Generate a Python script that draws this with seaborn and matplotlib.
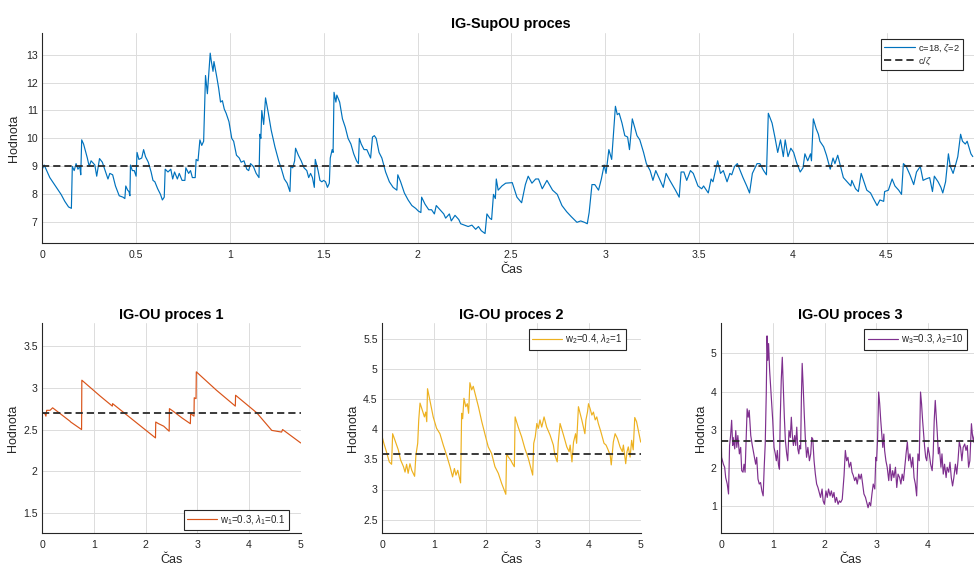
import matplotlib
matplotlib.use("Agg")
import matplotlib.pyplot as plt
import seaborn as sns
from matplotlib.ticker import FuncFormatter

# ---------------- data ----------------
top_t = [0.000, 0.010, 0.020, 0.040, 0.060, 0.080, 0.100, 0.120, 0.140, 0.155, 0.160, 0.170, 0.180, 0.190, 0.200,
         0.205, 0.210, 0.220, 0.240, 0.250, 0.260, 0.280, 0.290, 0.305, 0.320, 0.335, 0.350, 0.360, 0.375, 0.390,
         0.410, 0.430, 0.440, 0.445, 0.455, 0.462, 0.467, 0.470, 0.480, 0.490, 0.500, 0.505, 0.515, 0.530, 0.540,
         0.550, 0.565, 0.580, 0.590, 0.600, 0.615, 0.630, 0.640, 0.650, 0.655, 0.670, 0.685, 0.695, 0.705, 0.720,
         0.730, 0.745, 0.760, 0.765, 0.780, 0.790, 0.800, 0.815, 0.820, 0.830, 0.840, 0.850, 0.860, 0.870, 0.880,
         0.895, 0.900, 0.910, 0.915, 0.930, 0.940, 0.950, 0.960, 0.970, 0.980, 0.995, 1.010, 1.020, 1.035, 1.050,
         1.060, 1.075, 1.090, 1.100, 1.110, 1.125, 1.140, 1.155, 1.160, 1.165, 1.170, 1.180, 1.190, 1.205, 1.220,
         1.240, 1.260, 1.275, 1.290, 1.305, 1.320, 1.325, 1.335, 1.345, 1.350, 1.365, 1.380, 1.395, 1.410, 1.420,
         1.430, 1.440, 1.450, 1.455, 1.470, 1.480, 1.490, 1.500, 1.510, 1.520, 1.530, 1.535, 1.545, 1.550, 1.555,
         1.565, 1.570, 1.585, 1.600, 1.615, 1.630, 1.645, 1.660, 1.675, 1.685, 1.690, 1.700, 1.715, 1.730, 1.750,
         1.760, 1.770, 1.780, 1.795, 1.810, 1.830, 1.850, 1.870, 1.890, 1.895, 1.910, 1.930, 1.950, 1.970, 1.990,
         2.005, 2.018, 2.022, 2.040, 2.060, 2.075, 2.090, 2.100, 2.120, 2.140, 2.150, 2.170, 2.180, 2.200, 2.220,
         2.230, 2.250, 2.270, 2.290, 2.310, 2.325, 2.340, 2.360, 2.370, 2.385, 2.395, 2.405, 2.415, 2.420, 2.430,
         2.450, 2.470, 2.505, 2.530, 2.555, 2.575, 2.590, 2.610, 2.630, 2.645, 2.665, 2.690, 2.720, 2.745, 2.770,
         2.795, 2.820, 2.850, 2.870, 2.890, 2.905, 2.915, 2.930, 2.945, 2.965, 2.980, 2.995, 3.005, 3.020, 3.035,
         3.055, 3.065, 3.075, 3.090, 3.105, 3.120, 3.130, 3.145, 3.170, 3.185, 3.205, 3.220, 3.240, 3.255, 3.270,
         3.290, 3.310, 3.325, 3.345, 3.375, 3.395, 3.405, 3.420, 3.435, 3.455, 3.470, 3.495, 3.515, 3.525, 3.540,
         3.550, 3.565, 3.575, 3.590, 3.600, 3.615, 3.630, 3.650, 3.665, 3.675, 3.690, 3.705, 3.720, 3.735, 3.755,
         3.770, 3.785, 3.810, 3.825, 3.845, 3.860, 3.870, 3.890, 3.905, 3.920, 3.935, 3.950, 3.960, 3.975, 3.990,
         4.005, 4.020, 4.040, 4.055, 4.065, 4.080, 4.095, 4.100, 4.110, 4.125, 4.137, 4.145, 4.165, 4.180, 4.200,
         4.215, 4.225, 4.240, 4.255, 4.270, 4.290, 4.310, 4.315, 4.335, 4.350, 4.365, 4.380, 4.395, 4.415, 4.430,
         4.450, 4.465, 4.485, 4.490, 4.510, 4.530, 4.545, 4.565, 4.580, 4.590, 4.605, 4.625, 4.645, 4.660, 4.680,
         4.695, 4.710, 4.730, 4.745, 4.755, 4.775, 4.790, 4.800, 4.815, 4.830, 4.840, 4.855, 4.870, 4.880, 4.895,
         4.905, 4.920, 4.930, 4.950, 4.960]
top_v = [8.90, 9.05, 8.90, 8.60, 8.40, 8.20, 8.00, 7.75, 7.55, 7.50, 9.00, 8.85, 9.10, 8.90, 9.00,
         8.70, 9.95, 9.80, 9.30, 9.00, 9.20, 9.05, 8.65, 9.28, 9.15, 8.85, 8.55, 8.75, 8.70, 8.30,
         7.95, 7.90, 7.85, 8.30, 8.15, 8.10, 7.95, 9.05, 8.85, 8.85, 8.65, 9.50, 9.25, 9.30, 9.60,
         9.35, 9.15, 8.80, 8.50, 8.45, 8.20, 8.00, 7.80, 7.90, 8.90, 8.80, 8.90, 8.55, 8.80, 8.55,
         8.75, 8.50, 8.50, 8.95, 8.75, 8.85, 8.60, 8.60, 9.25, 9.20, 9.95, 9.75, 9.90, 12.25, 11.60,
         13.05, 12.80, 12.40, 12.75, 12.20, 11.80, 11.30, 11.35, 11.05, 10.90, 10.60, 10.00, 9.90, 9.40, 9.30,
         9.15, 9.20, 8.90, 8.85, 9.10, 9.00, 8.75, 8.60, 10.15, 10.00, 11.00, 10.50, 11.45, 10.90, 10.30,
         9.70, 9.20, 8.90, 8.55, 8.40, 8.10, 9.00, 8.95, 9.20, 9.65, 9.40, 9.20, 8.95, 8.85, 8.60,
         8.75, 8.60, 8.25, 9.25, 8.85, 8.50, 8.45, 8.50, 8.45, 8.25, 8.40, 9.30, 9.60, 9.50, 11.65,
         11.30, 11.55, 11.30, 10.70, 10.40, 10.00, 9.80, 9.45, 9.20, 9.10, 10.00, 9.80, 9.60, 9.60, 9.30,
         10.05, 10.10, 10.00, 9.50, 9.30, 8.80, 8.45, 8.25, 8.15, 8.70, 8.45, 8.05, 7.80, 7.60, 7.50,
         7.40, 7.35, 7.90, 7.65, 7.45, 7.45, 7.30, 7.60, 7.45, 7.30, 7.15, 7.30, 7.05, 7.25, 7.10,
         6.95, 6.90, 6.85, 6.90, 6.75, 6.85, 6.70, 6.60, 7.30, 7.15, 7.10, 8.00, 7.85, 8.55, 8.15,
         8.30, 8.40, 8.42, 7.90, 7.70, 8.35, 8.65, 8.40, 8.55, 8.55, 8.20, 8.50, 8.15, 8.00, 7.60,
         7.38, 7.20, 7.00, 7.05, 7.00, 6.95, 7.35, 8.35, 8.35, 8.15, 8.55, 9.05, 8.75, 9.60, 9.25,
         11.15, 10.85, 10.90, 10.55, 10.10, 10.05, 9.60, 10.70, 10.10, 9.95, 9.50, 9.10, 8.85, 8.50, 8.85,
         8.55, 8.25, 8.75, 8.50, 8.15, 7.90, 8.80, 8.80, 8.50, 8.85, 8.75, 8.30, 8.20, 8.30, 8.15,
         8.05, 8.55, 8.45, 8.90, 9.20, 8.75, 8.85, 8.45, 8.75, 8.70, 9.00, 9.10, 8.85, 8.60, 8.30,
         8.05, 8.75, 9.10, 9.10, 8.85, 8.70, 10.90, 10.55, 10.05, 9.50, 9.95, 9.35, 9.95, 9.35, 9.65,
         9.50, 9.15, 8.80, 8.95, 9.45, 9.20, 9.45, 9.20, 10.70, 10.35, 10.15, 9.90, 9.70, 9.40, 8.90,
         9.30, 9.10, 9.40, 9.00, 8.60, 8.45, 8.30, 8.50, 8.20, 8.10, 8.75, 8.45, 8.15, 8.05, 7.85,
         7.60, 7.80, 7.75, 8.10, 8.15, 8.55, 8.30, 8.15, 8.00, 9.10, 9.00, 8.70, 8.35, 8.80, 9.00,
         8.50, 8.55, 8.60, 8.10, 8.65, 8.45, 8.25, 8.05, 8.45, 9.45, 9.00, 8.75, 9.10, 9.35, 10.15,
         9.90, 9.80, 9.90, 9.45, 9.35]

p1_t = [0.00, 0.05, 0.07, 0.085, 0.15, 0.20, 0.535, 0.55, 0.76, 0.765, 1.12, 1.355, 1.36, 2.19, 2.195, 2.25,
        2.35, 2.455, 2.46, 2.53, 2.70, 2.865, 2.87, 2.935, 2.94, 2.975, 2.98, 3.37, 3.735, 3.74, 4.15, 4.44,
        4.63, 4.65, 5.00]
p1_v = [2.70, 2.69, 2.66, 2.73, 2.73, 2.76, 2.60, 2.59, 2.50, 3.09, 2.90, 2.78, 2.81, 2.40, 2.59, 2.57,
        2.54, 2.48, 2.75, 2.72, 2.64, 2.57, 2.69, 2.66, 2.88, 2.87, 3.19, 2.97, 2.78, 2.91, 2.70, 2.49,
        2.47, 2.50, 2.34]

p2_t = [0.00, 0.03, 0.08, 0.135, 0.18, 0.20, 0.245, 0.31, 0.355, 0.41, 0.44, 0.47, 0.50, 0.535, 0.57, 0.625,
        0.65, 0.685, 0.705, 0.73, 0.775, 0.815, 0.84, 0.86, 0.875, 0.92, 0.985, 1.05, 1.115, 1.18, 1.245, 1.31,
        1.36, 1.395, 1.425, 1.46, 1.515, 1.535, 1.555, 1.58, 1.615, 1.645, 1.67, 1.695, 1.73, 1.76, 1.795, 1.86,
        1.925, 1.99, 2.05, 2.115, 2.18, 2.245, 2.31, 2.39, 2.405, 2.44, 2.485, 2.52, 2.555, 2.57, 2.63, 2.695,
        2.76, 2.825, 2.91, 2.93, 2.96, 2.99, 3.02, 3.05, 3.085, 3.13, 3.18, 3.245, 3.31, 3.34, 3.385, 3.405,
        3.44, 3.505, 3.57, 3.615, 3.635, 3.67, 3.70, 3.74, 3.76, 3.795, 3.86, 3.92, 3.94, 3.97, 3.99, 4.02,
        4.055, 4.085, 4.12, 4.15, 4.18, 4.23, 4.265, 4.29, 4.33, 4.37, 4.41, 4.43, 4.47, 4.505, 4.55, 4.60,
        4.645, 4.665, 4.71, 4.735, 4.76, 4.795, 4.825, 4.855, 4.885, 4.92, 5.00]
p2_v = [3.87, 3.77, 3.63, 3.46, 3.42, 3.93, 3.82, 3.66, 3.49, 3.38, 3.29, 3.42, 3.27, 3.43, 3.32, 3.22,
        3.57, 3.77, 4.16, 4.44, 4.32, 4.21, 4.29, 4.13, 4.68, 4.49, 4.21, 4.02, 3.93, 3.74, 3.57, 3.38,
        3.21, 3.35, 3.24, 3.32, 3.11, 4.27, 4.18, 4.52, 4.38, 4.43, 4.27, 4.78, 4.66, 4.72, 4.60, 4.38,
        4.13, 3.91, 3.71, 3.60, 3.38, 3.27, 3.10, 2.92, 3.60, 3.54, 3.49, 3.43, 3.38, 4.21, 4.04, 3.88,
        3.68, 3.52, 3.24, 3.77, 3.88, 4.10, 4.02, 4.16, 4.04, 4.21, 4.04, 3.91, 3.74, 3.57, 3.46, 3.79,
        4.10, 3.91, 3.71, 3.63, 3.74, 3.46, 3.79, 3.93, 3.77, 4.38, 4.16, 3.93, 4.16, 4.29, 4.43, 4.35,
        4.24, 4.29, 4.16, 4.21, 4.10, 3.96, 3.85, 3.77, 3.74, 3.66, 3.57, 3.41, 3.79, 3.93, 3.85, 3.71,
        3.63, 3.74, 3.43, 3.63, 3.71, 3.54, 3.82, 3.66, 4.20, 4.13, 3.79]

p3_t = [0.00, 0.006, 0.04, 0.065, 0.085, 0.115, 0.14, 0.16, 0.18, 0.20, 0.22, 0.23, 0.26, 0.28, 0.30, 0.32,
        0.35, 0.375, 0.395, 0.42, 0.44, 0.46, 0.485, 0.50, 0.52, 0.54, 0.57, 0.60, 0.63, 0.665, 0.685, 0.71,
        0.735, 0.76, 0.785, 0.81, 0.83, 0.85, 0.87, 0.885, 0.90, 0.915, 0.935, 0.955, 0.975, 0.995, 1.02, 1.045,
        1.065, 1.085, 1.105, 1.125, 1.14, 1.16, 1.18, 1.20, 1.22, 1.24, 1.265, 1.285, 1.31, 1.335, 1.355, 1.375,
        1.395, 1.42, 1.44, 1.46, 1.48, 1.50, 1.515, 1.535, 1.55, 1.565, 1.585, 1.605, 1.625, 1.65, 1.675, 1.705,
        1.73, 1.75, 1.77, 1.795, 1.82, 1.845, 1.87, 1.895, 1.92, 1.95, 1.97, 1.995, 2.025, 2.05, 2.075, 2.105,
        2.13, 2.155, 2.18, 2.205, 2.23, 2.26, 2.285, 2.31, 2.34, 2.375, 2.40, 2.425, 2.45, 2.475, 2.505, 2.53,
        2.555, 2.58, 2.605, 2.63, 2.66, 2.685, 2.71, 2.735, 2.76, 2.79, 2.815, 2.84, 2.865, 2.89, 2.915, 2.94,
        2.97, 2.99, 3.005, 3.025, 3.045, 3.065, 3.085, 3.105, 3.125, 3.145, 3.16, 3.185, 3.21, 3.24, 3.265, 3.29,
        3.315, 3.34, 3.37, 3.395, 3.42, 3.45, 3.475, 3.50, 3.525, 3.55, 3.575, 3.60, 3.625, 3.65, 3.68, 3.705,
        3.73, 3.755, 3.78, 3.805, 3.83, 3.855, 3.875, 3.895, 3.915, 3.935, 3.955, 3.975, 4.00, 4.025, 4.05, 4.08,
        4.10, 4.12, 4.14, 4.16, 4.18, 4.20, 4.22, 4.25, 4.27, 4.295, 4.32, 4.35, 4.37, 4.40, 4.425, 4.45,
        4.475, 4.50, 4.53, 4.555, 4.58, 4.605, 4.63, 4.655, 4.68, 4.71, 4.735, 4.76, 4.785, 4.81, 4.84, 4.86,
        4.88, 4.90, 4.92, 4.955, 4.99]
p3_v = [2.68, 2.28, 2.10, 2.02, 1.75, 1.58, 1.32, 2.59, 2.85, 3.25, 2.59, 2.80, 2.50, 2.98, 2.54, 2.85,
        2.37, 2.54, 1.93, 1.89, 2.10, 1.89, 2.98, 3.55, 3.33, 3.51, 2.85, 2.59, 2.37, 2.10, 2.28, 1.71,
        1.58, 1.62, 1.40, 1.27, 2.02, 2.63, 3.95, 5.46, 4.82, 5.26, 4.56, 4.12, 3.68, 3.25, 2.54, 2.37,
        2.19, 2.46, 2.10, 1.97, 3.25, 4.30, 4.90, 4.12, 3.33, 2.72, 2.37, 2.19, 2.98, 2.80, 3.33, 2.85,
        2.59, 2.85, 2.59, 3.07, 2.50, 2.37, 2.59, 2.50, 3.86, 4.74, 4.12, 3.42, 2.80, 2.28, 2.54, 2.19,
        2.37, 2.80, 2.76, 2.19, 1.84, 1.58, 1.49, 1.36, 1.23, 1.45, 1.14, 1.05, 1.40, 1.23, 1.45, 1.27,
        1.40, 1.23, 1.36, 1.10, 1.23, 1.05, 1.14, 1.10, 1.18, 1.80, 2.46, 2.19, 2.28, 2.02, 2.15, 1.89,
        1.80, 1.67, 1.76, 1.58, 1.84, 1.71, 1.84, 1.58, 1.32, 1.23, 1.10, 0.96, 1.10, 1.01, 1.32, 1.58,
        1.45, 2.28, 2.19, 2.80, 3.99, 3.68, 3.25, 2.89, 2.54, 2.89, 2.46, 2.19, 2.02, 1.67, 2.10, 1.67,
        1.93, 1.75, 2.02, 1.49, 1.84, 1.75, 1.58, 1.84, 1.67, 2.02, 2.37, 2.68, 2.19, 2.37, 2.02, 2.28,
        1.75, 1.58, 1.27, 2.37, 2.19, 3.99, 3.68, 3.25, 2.89, 2.54, 2.28, 2.19, 2.54, 2.37, 2.10, 1.93,
        2.37, 3.25, 3.77, 3.33, 2.89, 2.37, 2.54, 2.02, 2.37, 1.84, 2.10, 1.75, 2.02, 1.89, 2.15, 1.75,
        1.53, 1.75, 2.10, 1.84, 2.19, 2.68, 2.54, 2.19, 2.54, 2.63, 2.46, 2.59, 2.02, 2.19, 3.16, 2.85,
        2.68, 2.89, 2.68, 2.37, 2.19]

c_param = 18
zeta_param = 2
mean_top = c_param / zeta_param
weights = [0.3, 0.4, 0.3]

top_label = r"c=18, $\zeta$=2"
mean_label = r"c/$\zeta$"
p1_label = r"w$_1$=0.3, $\lambda_1$=0.1"
p2_label = r"w$_2$=0.4, $\lambda_2$=1"
p3_label = r"w$_3$=0.3, $\lambda_2$=10"

titles = ["IG-SupOU proces", "IG-OU proces 1", "IG-OU proces 2", "IG-OU proces 3"]
xlabel = "Čas"
ylabel = "Hodnota"

top_xticks = [0, 0.5, 1, 1.5, 2, 2.5, 3, 3.5, 4, 4.5]
top_yticks = [7, 8, 9, 10, 11, 12, 13]
bottom_xticks = [[0, 1, 2, 3, 4, 5], [0, 1, 2, 3, 4, 5], [0, 1, 2, 3, 4]]
yticks_list = [[1.5, 2, 2.5, 3, 3.5], [2.5, 3, 3.5, 4, 4.5, 5, 5.5], [1, 2, 3, 4, 5]]

colors = ["#0072BD", "#D95319", "#EDB120", "#7E2F8E"]

# ---------------- style ----------------
sns.set_style("white")
plt.rcParams["font.family"] = ["Liberation Sans", "DejaVu Sans"]
plt.rcParams["mathtext.fontset"] = "custom"
plt.rcParams["mathtext.rm"] = "Liberation Sans"
plt.rcParams["mathtext.it"] = "Liberation Sans:italic"
plt.rcParams["mathtext.bf"] = "Liberation Sans:bold"

W, H = 974, 565
fig = plt.figure(figsize=(W / 100, H / 100), dpi=100)


def pos(l, t, w, h):
    return [l / W, 1 - (t + h) / H, w / W, h / H]


def gfmt(v, p):
    return "%g" % v


DARK = "#262626"


def style(ax, xlim, ylim, xticks, yticks, ticklen, title, tpad, ylpad):
    ax.set_xlim(*xlim)
    ax.set_ylim(*ylim)
    ax.set_xticks(xticks)
    ax.set_yticks(yticks)
    ax.xaxis.set_major_formatter(FuncFormatter(gfmt))
    ax.yaxis.set_major_formatter(FuncFormatter(gfmt))
    ax.grid(True, color="#dcdcdc", lw=0.7)
    ax.set_axisbelow(True)
    for s in ["top", "right"]:
        ax.spines[s].set_visible(False)
    for s in ["left", "bottom"]:
        ax.spines[s].set_color(DARK)
        ax.spines[s].set_linewidth(0.8)
    ax.tick_params(axis="both", direction="in", length=ticklen, width=0.8,
                   color=DARK, labelcolor=DARK, labelsize=7.6)
    ax.tick_params(axis="x", pad=5)
    ax.tick_params(axis="y", pad=3.3)
    ax.set_title(title, fontsize=10.4, fontweight="bold", color="black", pad=tpad)
    ax.set_xlabel(xlabel, fontsize=9, color=DARK, labelpad=2.5)
    ax.set_ylabel(ylabel, fontsize=9, color=DARK, labelpad=ylpad)


def legend(ax, loc, anchor, spacing, fsize, hlen):
    lg = ax.legend(loc=loc, bbox_to_anchor=anchor, borderaxespad=0, fontsize=fsize,
                   handlelength=hlen, handletextpad=0.3, borderpad=0.35, labelspacing=spacing,
                   fancybox=False, framealpha=1, edgecolor=DARK)
    lg.get_frame().set_linewidth(0.8)
    for t in lg.get_texts():
        t.set_color(DARK)


DASH = dict(color="#2b2b2b", ls="--", lw=1.3, dashes=(4, 2.2))

# top axes (extends past the right edge like the cropped reference)
ax0 = fig.add_axes(pos(42.3, 33.3, 938, 210))
sns.lineplot(x=top_t, y=top_v, ax=ax0, color=colors[0], lw=0.85, estimator=None, sort=False,
             label=top_label)
ax0.axhline(mean_top, label=mean_label, **DASH)
style(ax0, (0, 5), (6.25, 13.76), top_xticks, top_yticks, 6.7, titles[0], 4, 4.5)
legend(ax0, "upper right", (0.9816, 0.973), 0.12, 6.7, 3.3)

series = [(p1_t, p1_v, p1_label), (p2_t, p2_v, p2_label), (p3_t, p3_v, p3_label)]
lefts = [42.3, 382.3, 721.3]
ylims = [(1.26, 3.77), (2.27, 5.77), (0.29, 5.79)]
leg_locs = [("lower right", (0.956, 0.0157)), ("upper right", (0.943, 0.971)),
            ("upper right", (0.952, 0.971))]

for i in range(3):
    ax = fig.add_axes(pos(lefts[i], 323.3, 258.4, 210))
    t, v, lab = series[i]
    sns.lineplot(x=t, y=v, ax=ax, color=colors[i + 1], lw=0.85, estimator=None, sort=False, label=lab)
    ax.axhline(weights[i] * mean_top, **DASH)
    style(ax, (0, 5), ylims[i], bottom_xticks[i], yticks_list[i], 2.5, titles[i + 1], 3, 3)
    legend(ax, leg_locs[i][0], leg_locs[i][1], 0.35, 7.0, 3.1)

fig.savefig("out.png", dpi=100)
